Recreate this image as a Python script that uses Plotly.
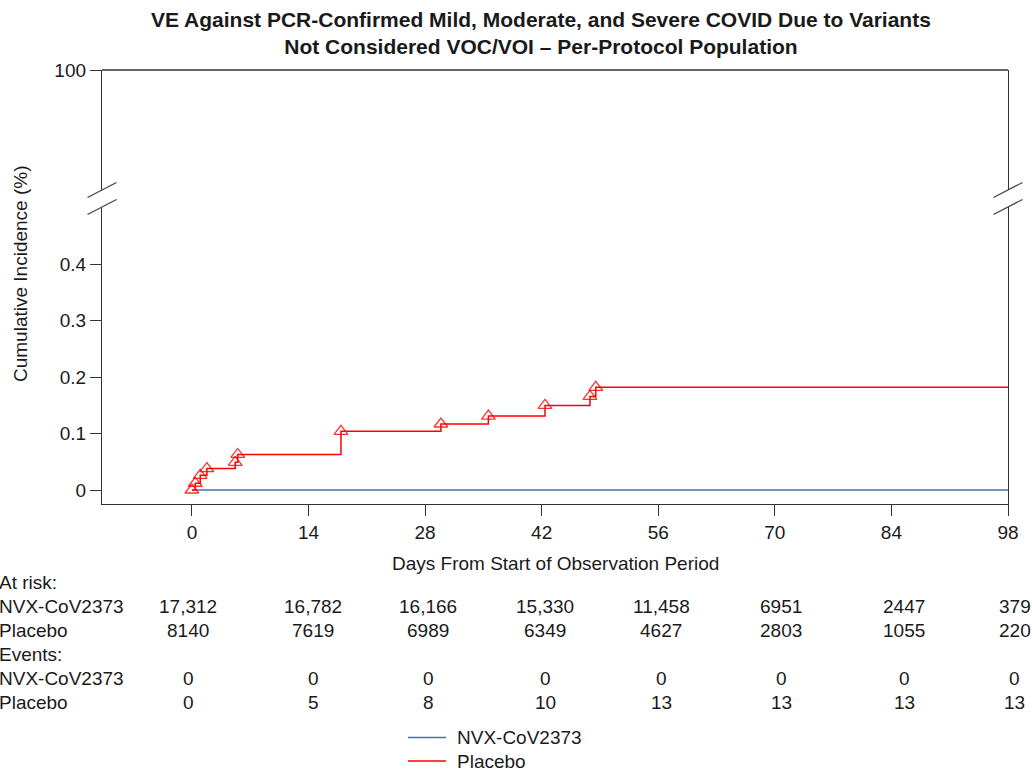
import plotly.graph_objects as go

# ---- Kaplan-Meier style cumulative incidence (%) ----
# Placebo: step times (days) and cumulative incidence after each event
placebo_event_days = [0.4, 1.0, 1.8, 5.2, 5.5, 17.9, 29.9, 35.6, 42.4, 47.8, 48.5]
placebo_cum_inc = [0.012, 0.026, 0.038, 0.049, 0.063, 0.104, 0.117, 0.131, 0.150, 0.166, 0.182]
# NVX-CoV2373: no events over the observation period
nvx_days = [0, 98]
nvx_cum_inc = [0, 0]
follow_up_end = 98

# ---- Risk table ----
table_days = [0, 14, 28, 42, 56, 70, 84, 98]
at_risk_nvx = [17312, 16782, 16166, 15330, 11458, 6951, 2447, 379]
at_risk_placebo = [8140, 7619, 6989, 6349, 4627, 2803, 1055, 220]
events_nvx = [0, 0, 0, 0, 0, 0, 0, 0]
events_placebo = [0, 5, 8, 10, 13, 13, 13, 13]

x_ticks = [0, 14, 28, 42, 56, 70, 84, 98]
y_ticks_low = [0, 0.1, 0.2, 0.3, 0.4]
y_tick_text_low = ["0", "0.1", "0.2", "0.3", "0.4"]

# ---- Geometry (pixels) ----
W, H = 1032, 772
ML, MR, MT, MB = 102, 24, 70, 268
PW = W - ML - MR
PH = H - MT - MB
PLOT_BOTTOM = H - MB
BREAK_UPPER_PX = 190   # bottom of upper (100) segment
BREAK_LOWER_PX = 207   # top of lower segment
table_col_px = [188, 313, 428, 545, 661, 781, 904, 1015]
table_row_px = [582, 606, 630, 654, 678, 702]
legend_row_px = [737.5, 761]

FONT = "Arial, Liberation Sans, sans-serif"
TXT = "#1a1a1a"
AXC = "#333333"
BLUE = "#4b6eaf"
RED = "#ff0000"


def px_x(px):
    return (px - ML) / PW


def px_y(py):
    return (PLOT_BOTTOM - py) / PH


def fmt_n(v):
    return f"{v:,}" if v >= 10000 else str(v)


fig = go.Figure()

fig.add_trace(go.Scatter(
    x=nvx_days, y=nvx_cum_inc, mode="lines", line=dict(color=BLUE, width=1.3),
    name="NVX-CoV2373", showlegend=False, hoverinfo="skip"))

pl_x = [0] + placebo_event_days + [follow_up_end]
pl_y = [0] + placebo_cum_inc + [placebo_cum_inc[-1]]
fig.add_trace(go.Scatter(
    x=pl_x, y=pl_y, mode="lines", line=dict(color=RED, width=1.5, shape="hv"),
    name="Placebo", showlegend=False, hoverinfo="skip"))

fig.add_trace(go.Scatter(
    x=[0] + placebo_event_days, y=[0] + placebo_cum_inc, mode="markers",
    marker=dict(symbol="triangle-up-open", size=12, color="rgba(255,0,0,0.8)",
                line=dict(width=1.3, color="rgba(255,0,0,0.8)")),
    showlegend=False, hoverinfo="skip"))

# empty trace so the upper (broken) axis segment is rendered
fig.add_trace(go.Scatter(x=[], y=[], yaxis="y2", showlegend=False, hoverinfo="skip"))

lower_top = px_y(BREAK_LOWER_PX)
upper_bot = px_y(BREAK_UPPER_PX)
units_per_px = 0.1 / 56.4
y_low_min = -(PLOT_BOTTOM - 490) * units_per_px
y_low_max = y_low_min + (PLOT_BOTTOM - BREAK_LOWER_PX) * units_per_px

axis_common = dict(showgrid=False, zeroline=False, showline=True, linecolor=AXC,
                   linewidth=1.3, ticks="outside", tickcolor=AXC, tickwidth=1.3,
                   tickfont=dict(family=FONT, size=19, color=TXT))

fig.update_layout(
    width=W, height=H, autosize=False,
    margin=dict(l=ML, r=MR, t=MT, b=MB, pad=0),
    paper_bgcolor="white", plot_bgcolor="white",
    showlegend=False,
    xaxis=dict(range=[-(192 - ML) / (116.7 / 14), follow_up_end], tickvals=x_ticks,
               ticklen=11, anchor="y", **axis_common),
    yaxis=dict(domain=[0, lower_top], range=[y_low_min, y_low_max],
               tickvals=y_ticks_low, ticktext=y_tick_text_low, ticklen=11,
               mirror=True, anchor="x", **axis_common),
    yaxis2=dict(domain=[upper_bot, 1], range=[0, 100], tickvals=[100],
                ticktext=["100"], ticklen=11, mirror=True, anchor="x", **axis_common),
)

shapes = []
# top frame line
shapes.append(dict(type="line", xref="paper", yref="paper", x0=0, x1=1, y0=1, y1=1,
                   line=dict(color=AXC, width=1.3)))
# axis break slashes on both sides
for cx in (0, 1):
    for cy in (BREAK_UPPER_PX, BREAK_LOWER_PX):
        shapes.append(dict(type="line", xref="paper", yref="paper",
                           x0=cx - 14.5 / PW, x1=cx + 14.5 / PW,
                           y0=px_y(cy + 7.5), y1=px_y(cy - 7.5),
                           line=dict(color="#444444", width=1.3)))
# legend samples
for ly, col in zip(legend_row_px, (BLUE, RED)):
    shapes.append(dict(type="line", xref="paper", yref="paper", x0=px_x(408), x1=px_x(446),
                       y0=px_y(ly), y1=px_y(ly), line=dict(color=col, width=1.3)))
fig.update_layout(shapes=shapes)

ann = []


def text(x, y, s, size=19, xanchor="center", bold=False, angle=0):
    ann.append(dict(x=x, y=y, xref="paper", yref="paper", text=f"<b>{s}</b>" if bold else s,
                    showarrow=False, xanchor=xanchor, yanchor="middle", textangle=angle,
                    font=dict(family=FONT, size=size, color=TXT), align="center"))


text(px_x(541), px_y(33.5),
     "VE Against PCR-Confirmed Mild, Moderate, and Severe COVID Due to Variants<br>"
     "Not Considered VOC/VOI – Per-Protocol Population", size=21, bold=True)
text(px_x(20), px_y(274), "Cumulative Incidence (%)", angle=-90)
text(0.5, px_y(563), "Days From Start of Observation Period")

row_labels = ["At risk:", "NVX-CoV2373", "Placebo", "Events:", "NVX-CoV2373", "Placebo"]
for lbl, ry in zip(row_labels, table_row_px):
    text(px_x(-3), px_y(ry), lbl, xanchor="left")

rows = [(table_row_px[1], at_risk_nvx), (table_row_px[2], at_risk_placebo),
        (table_row_px[4], events_nvx), (table_row_px[5], events_placebo)]
for ry, vals in rows:
    for cx, v in zip(table_col_px, vals):
        text(px_x(cx), px_y(ry), fmt_n(v))

for ly, name in zip(legend_row_px, ("NVX-CoV2373", "Placebo")):
    text(px_x(455), px_y(ly), name, xanchor="left")

fig.update_layout(annotations=ann)

fig.write_html("out.html")
